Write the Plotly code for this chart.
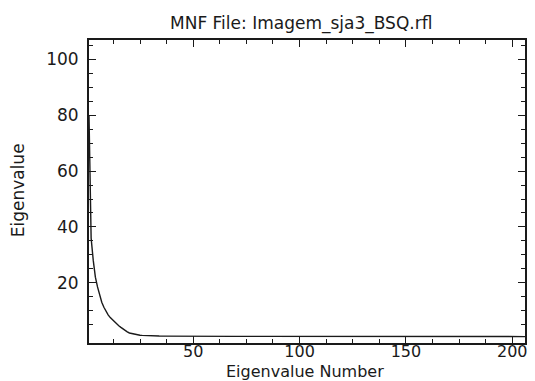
import plotly.graph_objects as go

# Eigenvalue number (band index) and eigenvalue
eig_head = [80, 36, 28, 22, 18.5, 15.5, 13, 11.2, 9.7, 8.5,
            7.5, 6.7, 6.0, 5.3, 4.6, 4.0, 3.4, 2.8, 2.4, 2.0,
            1.8, 1.6, 1.45, 1.3, 1.2, 1.12, 1.06, 1.02, 0.98, 0.95,
            0.93, 0.91, 0.9, 0.89, 0.88, 0.87, 0.86, 0.85, 0.84, 0.84]
eig_tail = [0.83, 0.83, 0.83, 0.82, 0.82, 0.82, 0.82, 0.81, 0.81, 0.81,
            0.81, 0.80, 0.80, 0.80, 0.80, 0.80, 0.79, 0.79, 0.79, 0.79,
            0.79, 0.79, 0.78, 0.78, 0.78, 0.78, 0.78, 0.78, 0.78, 0.77,
            0.77, 0.77, 0.77, 0.77, 0.77, 0.77, 0.77, 0.76, 0.76, 0.76,
            0.76, 0.76, 0.76, 0.76, 0.76, 0.76, 0.75, 0.75, 0.75, 0.75,
            0.75, 0.75, 0.75, 0.75, 0.75, 0.75, 0.75, 0.74, 0.74, 0.74,
            0.74, 0.74, 0.74, 0.74, 0.74, 0.74, 0.74, 0.74, 0.74, 0.74,
            0.73, 0.73, 0.73, 0.73, 0.73, 0.73, 0.73, 0.73, 0.73, 0.73,
            0.73, 0.73, 0.73, 0.73, 0.72, 0.72, 0.72, 0.72, 0.72, 0.72,
            0.72, 0.72, 0.72, 0.72, 0.72, 0.72, 0.72, 0.72, 0.72, 0.72,
            0.71, 0.71, 0.71, 0.71, 0.71, 0.71, 0.71, 0.71, 0.71, 0.71,
            0.71, 0.71, 0.71, 0.71, 0.71, 0.71, 0.71, 0.71, 0.71, 0.71,
            0.70, 0.70, 0.70, 0.70, 0.70, 0.70, 0.70, 0.70, 0.70, 0.70,
            0.70, 0.70, 0.70, 0.70, 0.70, 0.70, 0.70, 0.70, 0.70, 0.70,
            0.70, 0.70, 0.70, 0.70, 0.70, 0.70, 0.70, 0.70, 0.70, 0.70,
            0.70, 0.70, 0.70, 0.70, 0.70, 0.70, 0.70, 0.70, 0.70, 0.70,
            0.70, 0.70, 0.70, 0.70, 0.70, 0.70]
eigenvalues = eig_head + eig_tail
eig_numbers = list(range(1, len(eigenvalues) + 1))

x_major = [50, 100, 150, 200]
x_minor = [12.5, 25, 37.5, 62.5, 75, 87.5, 112.5, 125, 137.5, 162.5, 175, 187.5]
y_major = [20, 40, 60, 80, 100]
y_minor = [5, 10, 15, 25, 30, 35, 45, 50, 55, 65, 70, 75, 85, 90, 95, 105]

title_text = "MNF File: Imagem_sja3_BSQ.rfl"
x_title = "Eigenvalue Number"
y_title = "Eigenvalue"

W, H = 535, 381
L, R, T, B = 89, 527, 40, 343
FONT = "DejaVu Sans"
INK = "#1a1a1a"

fig = go.Figure()
fig.add_trace(go.Scatter(x=eig_numbers, y=eigenvalues, mode="lines",
                         line=dict(color=INK, width=1.4), hoverinfo="skip",
                         showlegend=False))

axis_common = dict(showgrid=False, zeroline=False, showline=True, linecolor=INK,
                   linewidth=2, mirror="ticks", ticks="inside", tickcolor=INK,
                   tickwidth=1.3, ticklen=7)

fig.update_xaxes(range=[1, 206], tickmode="array", tickvals=x_major,
                 ticktext=[str(v) for v in x_major],
                 tickfont=dict(family=FONT, size=16, color=INK),
                 minor=dict(tickmode="array", tickvals=x_minor, ticklen=4,
                            ticks="inside", tickcolor=INK, tickwidth=1.2),
                 ticklabelstandoff=-7,
                 **axis_common)
fig.update_yaxes(range=[-1.6, 107], tickmode="array", tickvals=y_major,
                 ticktext=[str(v) for v in y_major],
                 tickfont=dict(family=FONT, size=17, color=INK),
                 minor=dict(tickmode="array", tickvals=y_minor, ticklen=4,
                            ticks="inside", tickcolor=INK, tickwidth=1.2),
                 ticklabelstandoff=5,
                 **axis_common)

def px_x(px):
    return (px - L) / (R - L)

def px_y(py):
    return (B - py) / (B - T)

fig.add_annotation(text=title_text, x=px_x(301.5), y=px_y(23), xref="paper",
                   yref="paper", showarrow=False, xanchor="center",
                   yanchor="middle", font=dict(family=FONT, size=17, color=INK))
fig.add_annotation(text=x_title, x=px_x(306), y=px_y(371), xref="paper",
                   yref="paper", showarrow=False, xanchor="center",
                   yanchor="middle", font=dict(family=FONT, size=16, color=INK))
fig.add_annotation(text=y_title, x=px_x(18), y=px_y(190), xref="paper",
                   yref="paper", showarrow=False, xanchor="center",
                   yanchor="middle", textangle=-90,
                   font=dict(family=FONT, size=17, color=INK))

fig.update_layout(width=W, height=H, margin=dict(l=L, r=W - R, t=T, b=H - B),
                  paper_bgcolor="white", plot_bgcolor="white")

fig.write_html("out.html")
